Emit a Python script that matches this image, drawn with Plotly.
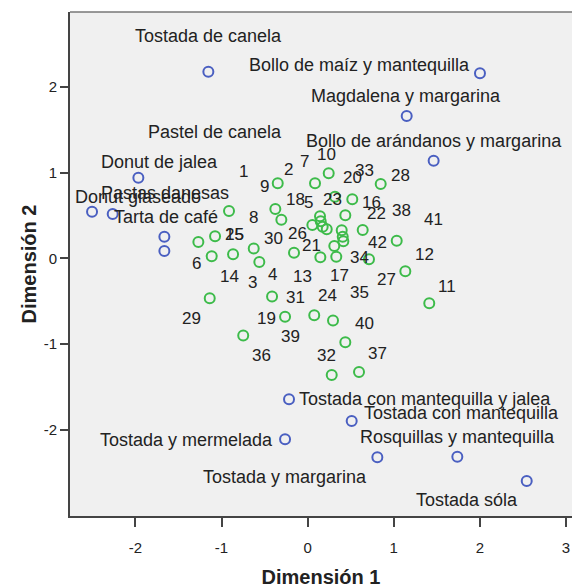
import plotly.graph_objects as go

# ---- Data ----
# Green points: numbered categories
green_labels = [str(i) for i in range(1, 43)]
green_x = [-0.913, 0.055, -0.561, -0.413, 0.144, -1.269, 0.086, -0.375, -0.347, 0.245,
           1.413, 1.135, 0.175, -1.114, -0.866, 0.438, 0.310, -0.305, -0.262, 0.519,
           0.222, 0.396, 0.318, 0.295, -1.075, -0.158, 0.408, 0.849, -1.137, -0.626,
           0.148, 0.280, 0.152, 0.713, 0.333, -0.748, 0.597, 0.640, 0.077, 0.438,
           1.035, 0.415]
green_y = [0.554, 0.391, -0.041, -0.443, 0.492, 0.193, 0.877, 0.578, 0.877, 0.994,
           -0.523, -0.149, 0.371, 0.026, 0.049, 0.504, 0.146, 0.453, -0.680, 0.691,
           0.341, 0.329, 0.721, -0.723, 0.259, 0.067, 0.254, 0.869, -0.464, 0.117,
           0.014, -1.359, 0.434, -0.009, 0.021, -0.900, -1.324, 0.333, -0.663, -0.978,
           0.208, 0.201]

# Blue points: named categories
blue_labels = ["Tostada de canela", "Bollo de maíz y mantequilla", "Magdalena y margarina",
               "Bollo de arándanos y margarina", "Donut de jalea", "Donut glaseado",
               "Pastas danesas", "Tarta de café", "Pastel de canela",
               "Tostada con mantequilla y jalea", "Tostada con mantequilla",
               "Tostada y mermelada", "Rosquillas y mantequilla", "Tostada y margarina",
               "Tostada sóla"]
blue_x = [-1.153, 2.002, 1.151, 1.464, -1.966, -2.504, -2.264, -1.664, -1.664,
          -0.216, 0.512, -0.262, 1.739, 0.810, 2.545]
blue_y = [2.180, 2.161, 1.663, 1.141, 0.943, 0.546, 0.519, 0.254, 0.088,
          -1.643, -1.896, -2.110, -2.313, -2.320, -2.596]

x_ticks = [-2, -1, 0, 1, 2, 3]
y_ticks = [-2, -1, 0, 1, 2]
x_title = "Dimensión 1"
y_title = "Dimensión 2"

# ---- Label placement (pixel offsets from each point: dx right, dy down) ----
green_offsets = [(14.3, -39.3), (-24, -55), (-6.6, 20.7), (0.7, -22.2), (-11.7, -13.6),
                 (-1.6, 21.3), (-10.7, -21.6), (-22, 8.3), (-13.7, 3.4), (-2.7, -18.3),
                 (17.4, -16.6), (18.7, -17), (-20, 50), (17.6, 20.4), (1, -20),
                 (26.4, -12.6), (5, 30), (13.7, -19.7), (-18.3, 1.9), (0, -21.6),
                 (-15, 16.7), (35, -16.3), (-2.3, 2.6), (-5.7, -25.2), (19, -2),
                 (3.3, -18.8), (44, 42.6), (19.3, -8.3), (-18.7, 20.7), (19.6, -9.5),
                 (-25.3, 40), (-5, -19), (43.6, -50.6), (-9.7, -2), (23.7, 36),
                 (18.5, 19.4), (18.7, -18.7), (39, -19), (-24.2, 21.4), (19, -19),
                 (36.6, -20.7), (34.4, 1.4)]
blue_offsets = [("center", 0, -36), ("right", -8.3, -8.3), ("center", -0.5, -20.3),
                ("center", 0.1, -19.7), ("center", 21.2, -16), ("center", 45.5, -15),
                ("center", 52, -21.3), ("center", 1.5, -20), ("center", 50.2, -119.3),
                ("left", 8.3, 0), ("left", 10, -7.7), ("right", -10, 0.7),
                ("center", 0.5, -19.4), ("center", -92.3, 20), ("center", -60, 19)]

BLUE = "#4a5fc1"
GREEN = "#3dbb4a"
FONT = "Liberation Sans, Arial, sans-serif"

fig = go.Figure()
fig.add_trace(go.Scatter(x=blue_x, y=blue_y, mode="markers", name="objetos",
                         marker=dict(symbol="circle-open", size=10, color=BLUE,
                                     line=dict(width=2, color=BLUE)),
                         hovertext=blue_labels, cliponaxis=False))
fig.add_trace(go.Scatter(x=green_x, y=green_y, mode="markers", name="sujetos",
                         marker=dict(symbol="circle-open", size=10, color=GREEN,
                                     line=dict(width=2, color=GREEN)),
                         hovertext=green_labels, cliponaxis=False))

annotations = []
for lab, x, y, (dx, dy) in zip(green_labels, green_x, green_y, green_offsets):
    annotations.append(dict(x=x, y=y, xref="x", yref="y", text=lab, showarrow=False,
                            xanchor="center", yanchor="middle", xshift=dx, yshift=-dy,
                            font=dict(size=17, color="#222222", family=FONT)))
for lab, x, y, (anc, dx, dy) in zip(blue_labels, blue_x, blue_y, blue_offsets):
    annotations.append(dict(x=x, y=y, xref="x", yref="y", text=lab, showarrow=False,
                            xanchor=anc, yanchor="middle", xshift=dx, yshift=-dy,
                            font=dict(size=18, color="#222222", family=FONT)))

fig.update_layout(
    width=572, height=588,
    margin=dict(l=70, r=0, t=12, b=72),
    paper_bgcolor="white", plot_bgcolor="#f0f0f0",
    showlegend=False,
    annotations=annotations,
    font=dict(family=FONT, color="#222222"),
    shapes=[dict(type="line", xref="paper", yref="paper", x0=0, x1=1, y0=1, y1=1,
                 line=dict(color="#777777", width=1.5))],
)
fig.update_xaxes(range=[-2.760, 3.071], tickvals=x_ticks, ticktext=[str(v) for v in x_ticks],
                 showgrid=False, zeroline=False, showline=True, linecolor="#444444",
                 linewidth=2, mirror=False, ticks="outside", ticklen=9, tickwidth=2,
                 tickcolor="#444444", tickfont=dict(size=15, color="#222222"),
                 ticklabelstandoff=8,
                 title=dict(text="<b>" + x_title + "</b>", font=dict(size=20, color="#222222"),
                            standoff=16))
fig.update_yaxes(range=[-3.005, 2.876], tickvals=y_ticks, ticktext=[str(v) for v in y_ticks],
                 showgrid=False, zeroline=False, showline=True, linecolor="#444444",
                 linewidth=2, mirror=False, ticks="outside", ticklen=8, tickwidth=2,
                 tickcolor="#444444", tickfont=dict(size=15, color="#222222"),
                 ticklabelstandoff=0,
                 title=dict(text="<b>" + y_title + "</b>", font=dict(size=20, color="#222222"),
                            standoff=2))

fig.write_html("out.html", config={"displayModeBar": False},
               post_script="document.body.style.margin='0';document.body.style.overflow='hidden';")
